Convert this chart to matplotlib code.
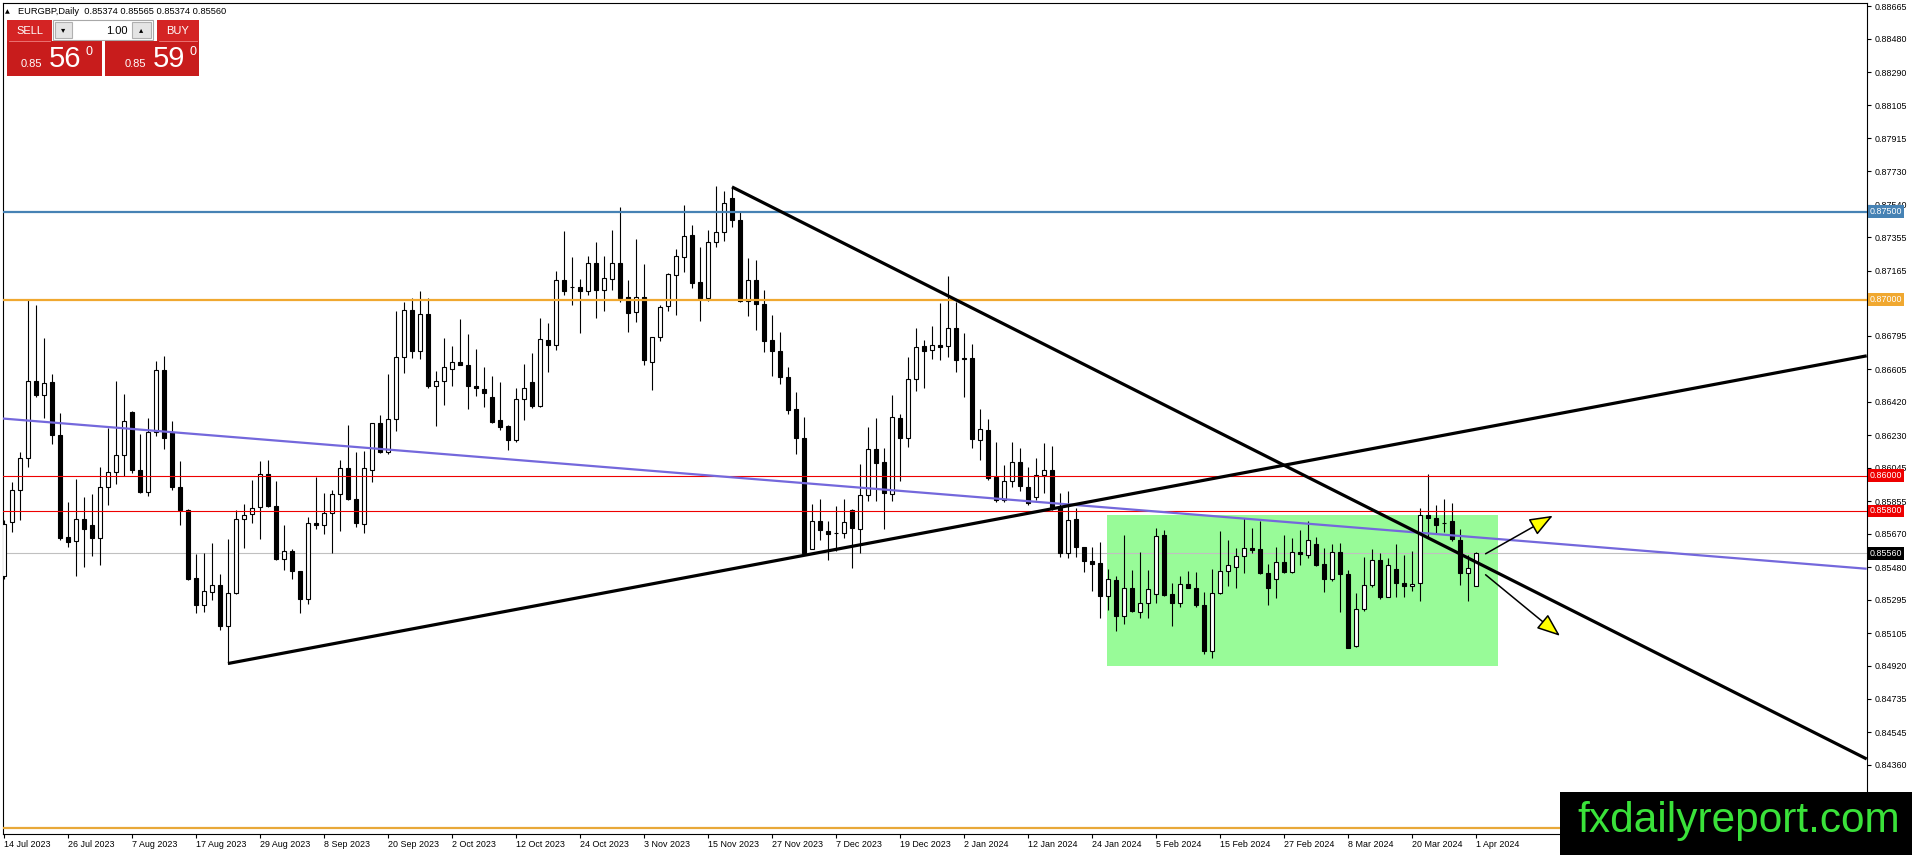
import matplotlib
matplotlib.use("Agg")
import matplotlib.pyplot as plt
import matplotlib.transforms as mtransforms
from matplotlib.patches import Rectangle
import numpy as np
import pandas as pd

# daily EURGBP candles, 14 Jul 2023 .. 1 Apr 2024
opens = [
    0.85433, 0.85737, 0.85919, 0.86101, 0.86538, 0.86457, 0.86532, 0.86233, 0.85652, 0.85628,
    0.85754, 0.85722, 0.85647, 0.85936, 0.86021, 0.86118, 0.86362, 0.86033, 0.85910, 0.86248,
    0.86602, 0.86250, 0.85936, 0.85807, 0.85419, 0.85264, 0.85340, 0.85382, 0.85145, 0.85334,
    0.85754, 0.85783, 0.85821, 0.86010, 0.85830, 0.85527, 0.85571, 0.85459, 0.85300, 0.85732,
    0.85722, 0.85790, 0.85898, 0.86046, 0.85870, 0.85728, 0.86031, 0.86302, 0.86135, 0.86324,
    0.86674, 0.86943, 0.86708, 0.86920, 0.86512, 0.86540, 0.86608, 0.86648, 0.86631, 0.86512,
    0.86495, 0.86449, 0.86315, 0.86284, 0.86205, 0.86438, 0.86531, 0.86396, 0.86773, 0.86744,
    0.87114, 0.87074, 0.87074, 0.87051, 0.87206, 0.87057, 0.87119, 0.87210, 0.87013, 0.86932,
    0.87013, 0.86646, 0.86788, 0.86962, 0.87142, 0.87242, 0.87369, 0.87102, 0.87009, 0.87327,
    0.87384, 0.87577, 0.87454, 0.86991, 0.87112, 0.86975, 0.86773, 0.86710, 0.86563, 0.86379,
    0.86214, 0.85586, 0.85741, 0.85688, 0.85675, 0.85675, 0.85806, 0.85700, 0.85889, 0.86152,
    0.86076, 0.85898, 0.86328, 0.86214, 0.86549, 0.86739, 0.86712, 0.86743, 0.86737, 0.86841,
    0.86667, 0.86671, 0.86201, 0.86260, 0.85995, 0.85862, 0.85970, 0.86078, 0.85936, 0.85881,
    0.86004, 0.86033, 0.85824, 0.85559, 0.85754, 0.85594, 0.85516, 0.85504, 0.85317, 0.85408,
    0.85204, 0.85361, 0.85228, 0.85277, 0.85328, 0.85663, 0.85328, 0.85279, 0.85385, 0.85361,
    0.85266, 0.85007, 0.85332, 0.85459, 0.85484, 0.85544, 0.85591, 0.85582, 0.85449, 0.85415,
    0.85512, 0.85453, 0.85568, 0.85551, 0.85610, 0.85500, 0.85413, 0.85568, 0.85443, 0.85031,
    0.85245, 0.85377, 0.85519, 0.85313, 0.85468, 0.85389, 0.85373, 0.85392, 0.85779, 0.85758,
    0.85733, 0.85741, 0.85638, 0.85449, 0.85374,
]
highs = [
    0.85751, 0.85965, 0.86135, 0.86996, 0.86972, 0.86782, 0.86578, 0.86356, 0.85853, 0.85983,
    0.85879, 0.85896, 0.86050, 0.86271, 0.86538, 0.86464, 0.86365, 0.86239, 0.86330, 0.86650,
    0.86680, 0.86311, 0.86082, 0.85810, 0.85558, 0.85561, 0.85618, 0.85444, 0.85641, 0.85807,
    0.85841, 0.85978, 0.86082, 0.86090, 0.85970, 0.85720, 0.85584, 0.85462, 0.85766, 0.85993,
    0.85904, 0.85917, 0.86088, 0.86286, 0.86135, 0.86139, 0.86302, 0.86347, 0.86580, 0.86934,
    0.86985, 0.87008, 0.87047, 0.87008, 0.86593, 0.86784, 0.86735, 0.86892, 0.86807, 0.86722,
    0.86618, 0.86565, 0.86531, 0.86288, 0.86500, 0.86633, 0.86699, 0.86894, 0.86869, 0.87163,
    0.87388, 0.87240, 0.87117, 0.87250, 0.87326, 0.87250, 0.87394, 0.87526, 0.87114, 0.87346,
    0.87203, 0.86790, 0.86972, 0.87151, 0.87290, 0.87540, 0.87426, 0.87297, 0.87394, 0.87647,
    0.87615, 0.87640, 0.87502, 0.87239, 0.87225, 0.87057, 0.86915, 0.86816, 0.86616, 0.86476,
    0.86334, 0.85840, 0.85870, 0.85741, 0.85826, 0.85870, 0.85811, 0.86067, 0.86277, 0.86328,
    0.86158, 0.86457, 0.86353, 0.86672, 0.86839, 0.86773, 0.86852, 0.86979, 0.87136, 0.86989,
    0.86813, 0.86748, 0.86381, 0.86322, 0.86192, 0.86061, 0.86192, 0.86160, 0.86050, 0.86103,
    0.86184, 0.86171, 0.85900, 0.85913, 0.85815, 0.85598, 0.85598, 0.85626, 0.85470, 0.85431,
    0.85664, 0.85465, 0.85569, 0.85465, 0.85705, 0.85692, 0.85389, 0.85433, 0.85459, 0.85455,
    0.85342, 0.85470, 0.85686, 0.85635, 0.85588, 0.85758, 0.85703, 0.85743, 0.85500, 0.85597,
    0.85661, 0.85644, 0.85690, 0.85746, 0.85654, 0.85591, 0.85610, 0.85620, 0.85464, 0.85336,
    0.85538, 0.85582, 0.85559, 0.85534, 0.85614, 0.85548, 0.85570, 0.85815, 0.86009, 0.85832,
    0.85869, 0.85843, 0.85695, 0.85551, 0.85565,
]
lows = [
    0.85414, 0.85679, 0.85751, 0.86048, 0.86450, 0.86326, 0.86178, 0.85637, 0.85594, 0.85429,
    0.85480, 0.85546, 0.85491, 0.85832, 0.85951, 0.86000, 0.86016, 0.85902, 0.85883, 0.86224,
    0.86154, 0.85917, 0.85722, 0.85410, 0.85221, 0.85224, 0.85293, 0.85122, 0.84934, 0.85330,
    0.85588, 0.85732, 0.85641, 0.85822, 0.85522, 0.85463, 0.85416, 0.85221, 0.85274, 0.85700,
    0.85671, 0.85561, 0.85686, 0.85865, 0.85709, 0.85677, 0.85965, 0.86130, 0.86125, 0.86254,
    0.86584, 0.86669, 0.86663, 0.86500, 0.86283, 0.86404, 0.86510, 0.86628, 0.86379, 0.86455,
    0.86390, 0.86300, 0.86262, 0.86144, 0.86192, 0.86319, 0.86383, 0.86390, 0.86589, 0.86716,
    0.87028, 0.86970, 0.86813, 0.87028, 0.86898, 0.86938, 0.87053, 0.86987, 0.86816, 0.86873,
    0.86627, 0.86487, 0.86763, 0.86934, 0.86913, 0.87155, 0.87066, 0.86877, 0.86991, 0.87299,
    0.87331, 0.87413, 0.86988, 0.86905, 0.86830, 0.86703, 0.86565, 0.86521, 0.86351, 0.86124,
    0.85556, 0.85582, 0.85637, 0.85523, 0.85571, 0.85646, 0.85476, 0.85561, 0.85859, 0.85859,
    0.85698, 0.85859, 0.85968, 0.86161, 0.86479, 0.86498, 0.86663, 0.86657, 0.86672, 0.86587,
    0.86449, 0.86156, 0.86090, 0.85976, 0.85853, 0.85853, 0.85938, 0.85915, 0.85834, 0.85862,
    0.85900, 0.85806, 0.85537, 0.85535, 0.85540, 0.85455, 0.85347, 0.85194, 0.85238, 0.85118,
    0.85156, 0.85228, 0.85190, 0.85190, 0.85275, 0.85317, 0.85147, 0.85253, 0.85362, 0.85253,
    0.84988, 0.84967, 0.85328, 0.85374, 0.85361, 0.85446, 0.85559, 0.85445, 0.85266, 0.85305,
    0.85449, 0.85449, 0.85491, 0.85532, 0.85487, 0.85339, 0.85400, 0.85226, 0.85020, 0.85028,
    0.85235, 0.85370, 0.85298, 0.85310, 0.85311, 0.85311, 0.85345, 0.85288, 0.85654, 0.85676,
    0.85680, 0.85629, 0.85377, 0.85288, 0.85374,
]
closes = [
    0.85726, 0.85919, 0.86101, 0.86538, 0.86457, 0.86527, 0.86230, 0.85647, 0.85622, 0.85754,
    0.85698, 0.85647, 0.85936, 0.86021, 0.86118, 0.86311, 0.86031, 0.85906, 0.86248, 0.86601,
    0.86213, 0.85934, 0.85804, 0.85416, 0.85264, 0.85344, 0.85382, 0.85145, 0.85334, 0.85754,
    0.85777, 0.85815, 0.86010, 0.85826, 0.85527, 0.85571, 0.85459, 0.85300, 0.85732, 0.85722,
    0.85790, 0.85898, 0.86046, 0.85870, 0.85732, 0.86046, 0.86300, 0.86135, 0.86324, 0.86674,
    0.86943, 0.86708, 0.86920, 0.86508, 0.86540, 0.86618, 0.86648, 0.86631, 0.86510, 0.86500,
    0.86472, 0.86305, 0.86275, 0.86205, 0.86438, 0.86500, 0.86396, 0.86779, 0.86744, 0.87114,
    0.87049, 0.87072, 0.87049, 0.87210, 0.87057, 0.87123, 0.87210, 0.87011, 0.86922, 0.87013,
    0.86655, 0.86788, 0.86958, 0.87146, 0.87250, 0.87363, 0.87095, 0.87006, 0.87327, 0.87384,
    0.87549, 0.87451, 0.86991, 0.87112, 0.86975, 0.86763, 0.86707, 0.86561, 0.86375, 0.86214,
    0.85561, 0.85741, 0.85690, 0.85669, 0.85674, 0.85735, 0.85703, 0.85889, 0.86152, 0.86072,
    0.85902, 0.86332, 0.86214, 0.86549, 0.86731, 0.86710, 0.86744, 0.86731, 0.86841, 0.86655,
    0.86665, 0.86207, 0.86266, 0.85989, 0.85862, 0.85970, 0.86078, 0.85942, 0.85843, 0.86004,
    0.86033, 0.85819, 0.85559, 0.85751, 0.85594, 0.85516, 0.85497, 0.85317, 0.85414, 0.85204,
    0.85361, 0.85232, 0.85277, 0.85357, 0.85658, 0.85323, 0.85279, 0.85385, 0.85364, 0.85266,
    0.85007, 0.85332, 0.85459, 0.85491, 0.85544, 0.85592, 0.85580, 0.85449, 0.85364, 0.85512,
    0.85453, 0.85568, 0.85557, 0.85638, 0.85496, 0.85413, 0.85568, 0.85442, 0.85023, 0.85245,
    0.85377, 0.85519, 0.85311, 0.85496, 0.85389, 0.85373, 0.85387, 0.85777, 0.85761, 0.85720,
    0.85729, 0.85642, 0.85449, 0.85474, 0.85560,
]

holidays = ["2023-12-25", "2024-01-01"]
ytick_vals = [0.88665, 0.88480, 0.88290, 0.88105, 0.87915, 0.87730, 0.87540, 0.87355,
              0.87165, 0.86795, 0.86605, 0.86420, 0.86230, 0.86045, 0.85855,
              0.85670, 0.85480, 0.85295, 0.85105, 0.84920, 0.84735, 0.84545, 0.84360]

# horizontal levels: price, colour, width, label on axis
levels = [(0.875, "#4682b4", 1.6, True), (0.870, "#f0a830", 1.6, True),
          (0.860, "#ee0000", 0.8, True), (0.858, "#ee0000", 0.8, True),
          (0.840, "#e8a838", 1.6, False)]
bid = 0.85560

# drawn objects, (bar index, price)
trend_down = [(91.0, 0.87640), (232.84, 0.84392)]
trend_up = [(28.0, 0.84934), (232.84, 0.86681)]
channel = [(-0.16, 0.86325), (232.84, 0.85472)]
zone = (137.9, 186.8, 0.84919, 0.85780)
arrows = [((185.2, 0.85557), (193.6, 0.85773)),
          ((185.2, 0.85438), (194.5, 0.85091))]

W, H = 1912, 855
plt.rcParams["font.family"] = ["Liberation Sans", "DejaVu Sans"]


def fx(p):
    return p / W


def fy(p):
    return 1 - p / H


fig = plt.figure(figsize=(W / 100, H / 100), dpi=100)
fig.patch.set_facecolor("white")
ax = fig.add_axes([fx(2.7), fy(834), fx(1866.7) - fx(2.7), fy(2.7) - fy(834)])

o = np.array(opens)
h = np.array(highs)
l = np.array(lows)
c = np.array(closes)
n = len(o)
x = np.arange(n)

dates = pd.bdate_range("2023-07-14", periods=n + 4)
dates = dates[~dates.isin(pd.to_datetime(holidays))][:n]

# candles
ax.vlines(x, l, h, color="black", lw=0.8, zorder=3)
body_lo = np.minimum(o, c)
body_h = np.maximum(np.abs(c - o), 0.000004)
ax.bar(x, body_h, bottom=body_lo, width=0.5,
       color=np.where(c >= o, "white", "black"), edgecolor="black",
       linewidth=0.8, zorder=4)

# zone
ax.add_patch(Rectangle((zone[0], zone[2]), zone[1] - zone[0], zone[3] - zone[2],
                       facecolor="#98fb98", edgecolor="none", zorder=1))

# levels
ax.axhline(bid, color="#c0c0c0", lw=0.8, zorder=2)
for price, col, lw, _ in levels:
    ax.axhline(price, color=col, lw=lw, zorder=5)

for pts, col, lw in [(channel, "#7468dc", 1.6), (trend_down, "black", 2.3),
                     (trend_up, "black", 2.3)]:
    ax.plot([p[0] for p in pts], [p[1] for p in pts], color=col, lw=lw,
            solid_capstyle="butt", zorder=6)

for start, tip in arrows:
    ax.annotate("", xy=tip, xytext=start,
                arrowprops=dict(arrowstyle="-|>,head_length=0.9,head_width=0.35",
                                facecolor="#ffff00", edgecolor="black", lw=1.1,
                                mutation_scale=16, shrinkA=0, shrinkB=0),
                zorder=7)

ax.set_xlim(-0.16, 232.84)
ax.set_ylim(0.83966, 0.88686)

# axes styling
for sp in ax.spines.values():
    sp.set_color("black")
    sp.set_linewidth(0.8)
ax.yaxis.tick_right()
ax.set_yticks(ytick_vals)
ax.set_yticklabels([f"{v:.5f}" for v in ytick_vals])
ax.tick_params(axis="y", length=3, width=0.8, pad=2.5, labelsize=6.4)
tick_idx = list(range(0, n, 8))
ax.set_xticks(tick_idx)
ax.set_xticklabels([f"{dates[i].day} {dates[i]:%b %Y}" for i in tick_idx])
ax.tick_params(axis="x", length=3, width=0.8, pad=1.5, labelsize=6.4)
for lab in ax.get_xticklabels():
    lab.set_ha("left")

# price tags on the axis
tr = mtransforms.blended_transform_factory(ax.transAxes, ax.transData)
for price, col, _, tag in levels:
    if tag:
        ax.text(1.0017, price, f"{price:.5f}", transform=tr, ha="left", va="center",
                fontsize=6.4, color="white", clip_on=False, zorder=8,
                bbox=dict(boxstyle="square,pad=0.22", fc=col, ec="none"))
ax.text(1.0017, bid, f"{bid:.5f}", transform=tr, ha="left", va="center",
        fontsize=6.4, color="white", clip_on=False, zorder=8,
        bbox=dict(boxstyle="square,pad=0.22", fc="black", ec="none"))

# header
fig.text(fx(5), fy(12), "\u25b2", fontsize=4.5, family="DejaVu Sans", va="center")
fig.text(fx(18), fy(14), "EURGBP,Daily  0.85374 0.85565 0.85374 0.85560",
         fontsize=6.7, va="baseline")


# one-click trading panel
def box(x0, y0, x1, y1, fc, ec="none", lw=0.8, z=9):
    fig.add_artist(Rectangle((fx(x0), fy(y1)), fx(x1) - fx(x0), fy(y0) - fy(y1),
                             transform=fig.transFigure, facecolor=fc, edgecolor=ec,
                             linewidth=lw, zorder=z))


red = "#c81c1c"
box(7, 20, 52, 41, "#d42424")
box(157, 20, 199, 41, "#d42424")
box(7, 41, 102, 76, red)
box(105, 41, 199, 76, red)
fig.add_artist(plt.Line2D([fx(9), fx(50)], [fy(41), fy(41)], color="#f08080", lw=0.6,
                          transform=fig.transFigure, zorder=10))
fig.add_artist(plt.Line2D([fx(159), fx(197)], [fy(41), fy(41)], color="#f08080", lw=0.6,
                          transform=fig.transFigure, zorder=10))
box(53, 20, 153, 40, "white", ec="#a8a8a8")
box(55, 22, 72, 38, "#e4e4e4", ec="#b0b0b0")
box(132, 22, 151, 38, "#e4e4e4", ec="#b0b0b0")
fig.text(fx(63.5), fy(30), "\u25be", fontsize=6, family="DejaVu Sans", ha="center",
         va="center", zorder=11)
fig.text(fx(141.5), fy(30), "\u25b4", fontsize=6, family="DejaVu Sans", ha="center",
         va="center", zorder=11)
fig.text(fx(128), fy(30.5), "1.00", fontsize=8, ha="right", va="center", zorder=11)
fig.text(fx(29.5), fy(31), "SELL", fontsize=8, color="white", ha="center", va="center",
         zorder=11)
fig.text(fx(178), fy(31), "BUY", fontsize=8, color="white", ha="center", va="center",
         zorder=11)
for x0, big in [(21, "56"), (125, "59")]:
    fig.text(fx(x0), fy(67), "0.85", fontsize=8, color="white", ha="left",
             va="baseline", zorder=11)
    fig.text(fx(x0 + 28), fy(67), big, fontsize=21, color="white", ha="left",
             va="baseline", zorder=11)
    fig.text(fx(x0 + 64), fy(55), "0", fontsize=9, color="white", ha="left",
             va="baseline", zorder=11)

# watermark
box(1560, 791.7, 1912, 855, "black", z=12)
fig.text(fx(1577), fy(832), "fxdailyreport.com", fontsize=30.5, color="#3ae23a",
         ha="left", va="baseline", zorder=13)

fig.savefig("out.png", dpi=100)
